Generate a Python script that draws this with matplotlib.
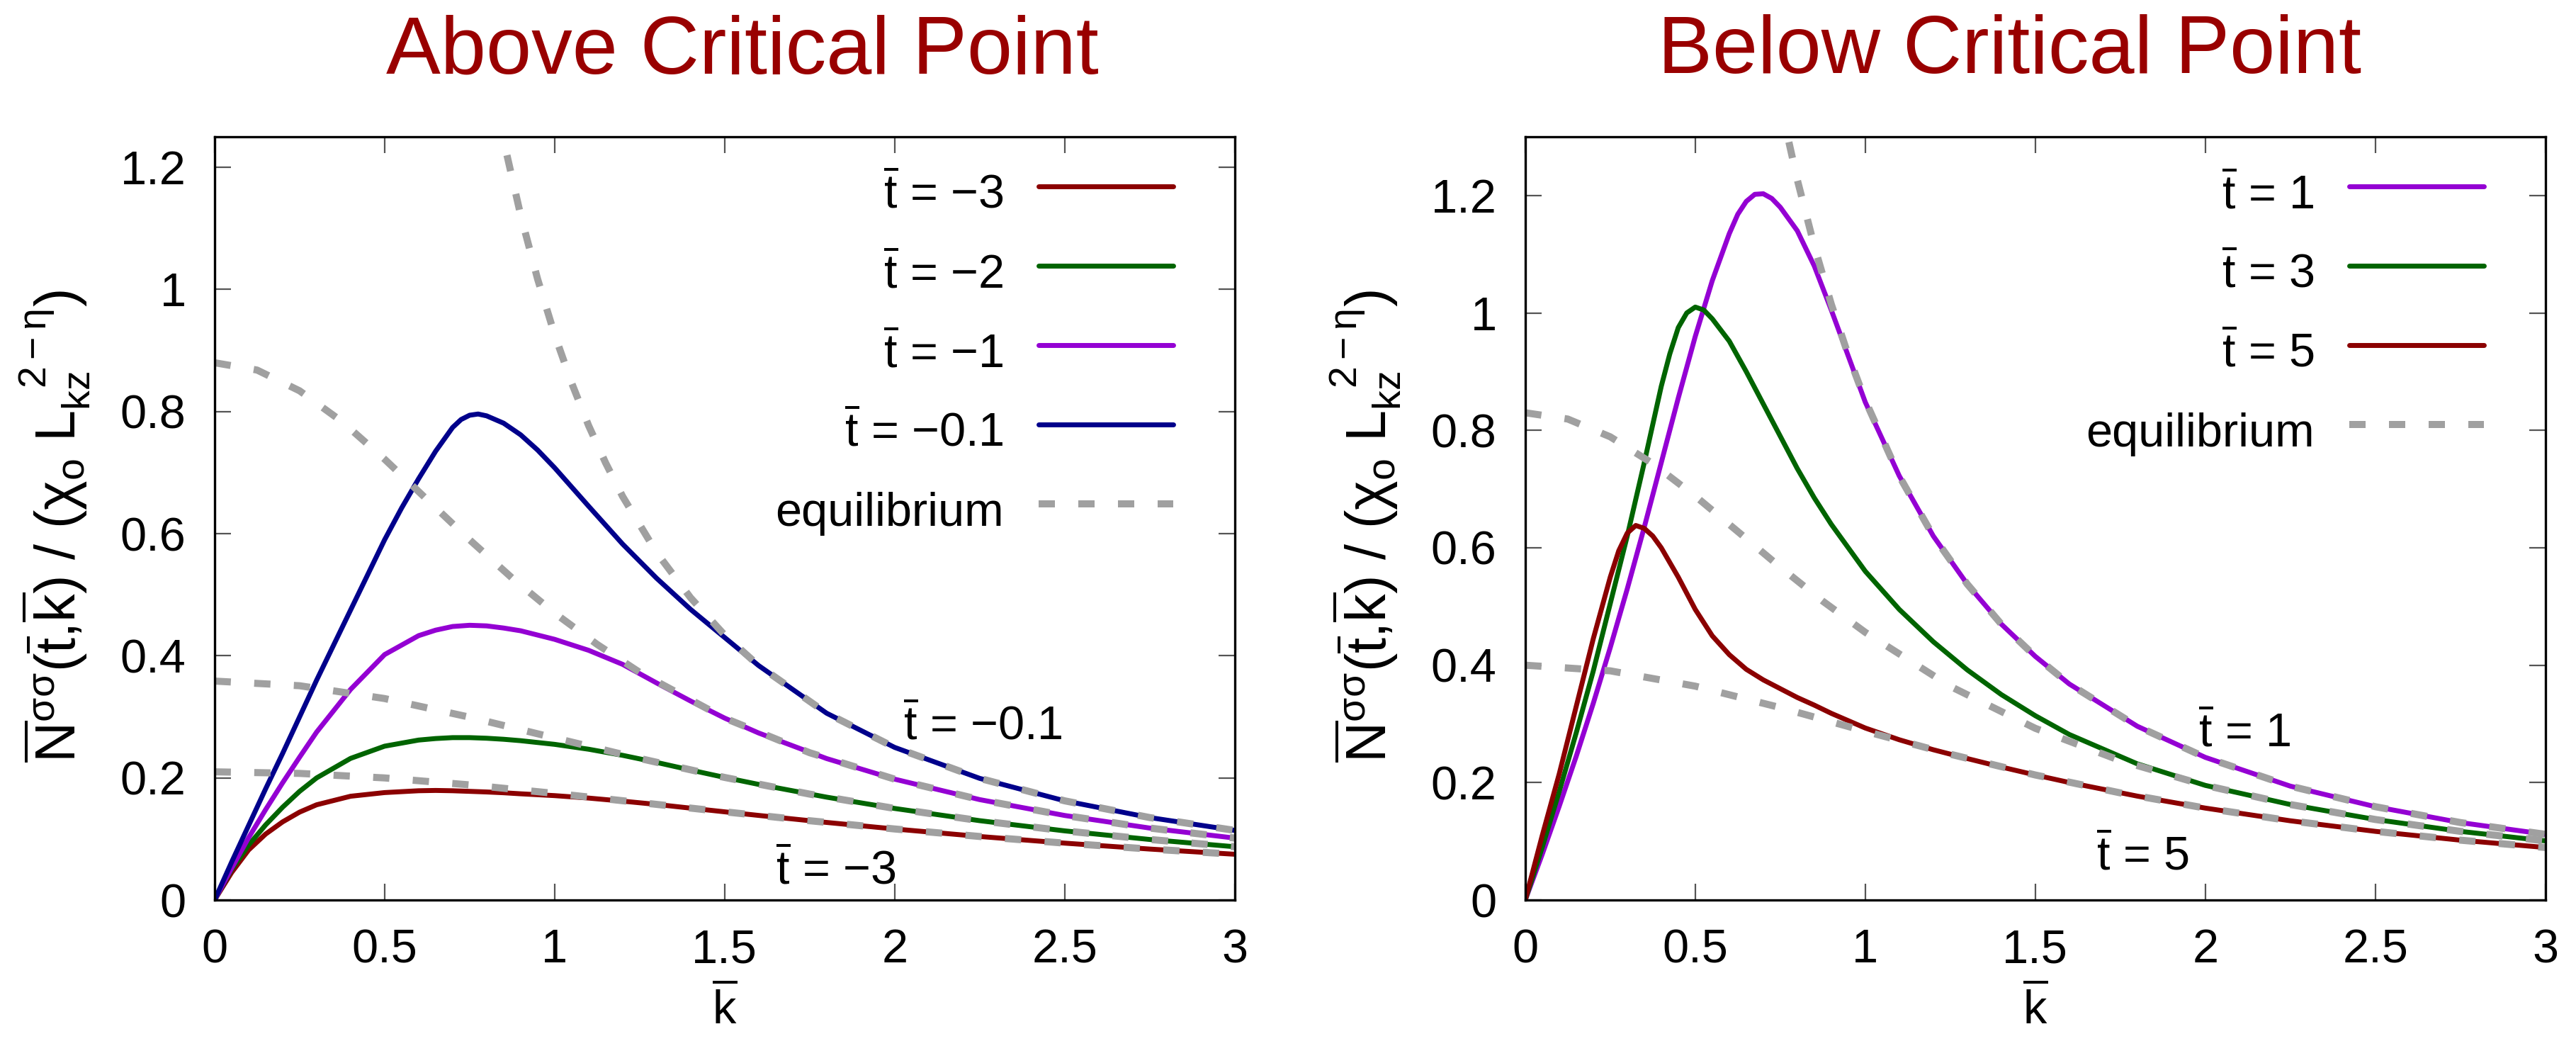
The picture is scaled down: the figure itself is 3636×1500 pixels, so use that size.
import matplotlib
matplotlib.use('Agg')
import matplotlib.pyplot as plt

plt.rcParams['font.family'] = ['Liberation Sans', 'DejaVu Sans']
plt.rcParams['mathtext.fontset'] = 'custom'
plt.rcParams['mathtext.rm'] = 'Liberation Sans'
plt.rcParams['mathtext.it'] = 'Liberation Sans'
plt.rcParams['mathtext.bf'] = 'Liberation Sans:bold'
plt.rcParams['mathtext.sf'] = 'Liberation Sans'

# ---- data ----
k_ticks = [0, 0.5, 1, 1.5, 2, 2.5, 3]
k_tick_labels = ['0', '0.5', '1', '1.5', '2', '2.5', '3']
n_ticks = [0, 0.2, 0.4, 0.6, 0.8, 1.0, 1.2]
n_tick_labels = ['0', '0.2', '0.4', '0.6', '0.8', '1', '1.2']

# above critical point
k_above = [0, 0.05, 0.1, 0.15, 0.2, 0.25, 0.3, 0.4, 0.5, 0.6, 0.65, 0.7, 0.75, 0.8, 0.85, 0.9,
           1.0, 1.1, 1.2, 1.3, 1.4, 1.5, 1.6, 1.8, 2.0, 2.25, 2.5, 2.75, 3.0]
n_above_m3 = [0, 0.045, 0.082, 0.108, 0.128, 0.144, 0.156, 0.170, 0.176, 0.179, 0.1795, 0.179, 0.178, 0.177,
              0.1757, 0.174, 0.171, 0.167, 0.162, 0.1566, 0.1505, 0.1445, 0.1386, 0.1271, 0.1164, 0.1041,
              0.0932, 0.0835, 0.0750]
n_above_m2 = [0, 0.05, 0.09, 0.123, 0.152, 0.178, 0.200, 0.232, 0.252, 0.262, 0.2645, 0.266, 0.266, 0.265,
              0.2633, 0.261, 0.255, 0.247, 0.237, 0.2254, 0.2129, 0.2008, 0.1894, 0.1685, 0.150, 0.130,
              0.1133, 0.0992, 0.0873]
n_above_m1 = [0, 0.052, 0.102, 0.148, 0.192, 0.234, 0.275, 0.345, 0.402, 0.433, 0.442, 0.448, 0.450, 0.449,
              0.4455, 0.441, 0.427, 0.409, 0.386, 0.3555, 0.3259, 0.298, 0.2736, 0.2317, 0.198, 0.1645,
              0.1385, 0.1179, 0.1015]

k_above_m01 = [0, 0.05, 0.1, 0.15, 0.2, 0.25, 0.3, 0.4, 0.5, 0.55, 0.6, 0.65, 0.7, 0.725, 0.75, 0.775, 0.8,
               0.85, 0.9, 0.95, 1.0, 1.1, 1.2, 1.3, 1.4, 1.5, 1.6, 1.8, 2.0, 2.25, 2.5, 2.75, 3.0]
n_above_m01 = [0, 0.062, 0.122, 0.182, 0.240, 0.300, 0.360, 0.475, 0.590, 0.642, 0.690, 0.735, 0.774, 0.787,
               0.794, 0.796, 0.793, 0.781, 0.762, 0.737, 0.708, 0.645, 0.583, 0.527, 0.476, 0.430, 0.384,
               0.306, 0.250, 0.1993, 0.1625, 0.1351, 0.1141]

k_eq_m3 = [0, 0.25, 0.5, 0.75, 1.0, 1.25, 1.5, 1.75, 2.0, 2.25, 2.5, 2.75, 3.0]
eq_m3 = [0.210, 0.2074, 0.200, 0.1886, 0.1747, 0.1597, 0.1445, 0.1299, 0.1164, 0.1041, 0.0932, 0.0835, 0.0750]
k_eq_m2 = [0, 0.25, 0.5, 0.75, 1.0, 1.25, 1.5, 1.75, 2.0, 2.25, 2.5, 2.75, 3.0]
eq_m2 = [0.3586, 0.351, 0.330, 0.2995, 0.2655, 0.2319, 0.2008, 0.1735, 0.150, 0.130, 0.1133, 0.0992, 0.0873]
k_eq_m1 = [0, 0.125, 0.25, 0.375, 0.5, 0.625, 0.75, 0.875, 1.0, 1.125, 1.25, 1.5, 1.75, 2.0, 2.25, 2.5, 2.75, 3.0]
eq_m1 = [0.880, 0.868, 0.834, 0.7835, 0.722, 0.6558, 0.590, 0.5274, 0.470, 0.4187, 0.373, 0.298, 0.2413,
         0.198, 0.1645, 0.1385, 0.1179, 0.1015]
k_eq_m01 = [0.75, 0.8, 0.85, 0.9, 0.95, 1.0, 1.05, 1.1, 1.15, 1.2, 1.3, 1.4, 1.5, 1.6, 1.8, 2.0, 2.25, 2.5, 2.75, 3.0]
eq_m01 = [1.551, 1.385, 1.244, 1.122, 1.017, 0.926, 0.847, 0.777, 0.716, 0.661, 0.569, 0.495, 0.434, 0.384,
          0.306, 0.250, 0.1993, 0.1625, 0.1351, 0.1141]

# below critical point
k_below_p1 = [0, 0.05, 0.1, 0.15, 0.2, 0.25, 0.3, 0.35, 0.4, 0.45, 0.5, 0.55, 0.6, 0.625, 0.65, 0.675, 0.7,
              0.725, 0.75, 0.8, 0.85, 0.9, 1.0, 1.1, 1.2, 1.3, 1.4, 1.5, 1.6, 1.8, 2.0, 2.25, 2.5, 2.75, 3.0]
n_below_p1 = [0, 0.078, 0.16, 0.245, 0.335, 0.43, 0.53, 0.635, 0.745, 0.855, 0.96, 1.055, 1.135, 1.168, 1.19,
              1.202, 1.203, 1.195, 1.18, 1.14, 1.08, 1.005, 0.848, 0.7224, 0.620, 0.538, 0.470, 0.415, 0.368,
              0.296, 0.243, 0.194, 0.159, 0.132, 0.112]
k_below_p3 = [0, 0.05, 0.1, 0.15, 0.2, 0.25, 0.3, 0.35, 0.4, 0.425, 0.45, 0.475, 0.5, 0.525, 0.55, 0.6, 0.65,
              0.7, 0.75, 0.8, 0.85, 0.9, 1.0, 1.1, 1.2, 1.3, 1.4, 1.5, 1.6, 1.8, 2.0, 2.25, 2.5, 2.75, 3.0]
n_below_p3 = [0, 0.09, 0.185, 0.285, 0.39, 0.505, 0.62, 0.745, 0.875, 0.93, 0.975, 1.0, 1.01, 1.005, 0.99,
              0.952, 0.9, 0.845, 0.79, 0.735, 0.685, 0.64, 0.56, 0.495, 0.44, 0.392, 0.35, 0.314, 0.282,
              0.232, 0.1953, 0.1627, 0.1372, 0.117, 0.1008]
k_below_p5 = [0, 0.05, 0.1, 0.15, 0.2, 0.25, 0.275, 0.3, 0.325, 0.35, 0.375, 0.4, 0.45, 0.5, 0.55, 0.6, 0.65,
              0.7, 0.75, 0.8, 0.85, 0.9, 1.0, 1.1, 1.2, 1.3, 1.4, 1.5, 1.6, 1.8, 2.0, 2.25, 2.5, 2.75, 3.0]
n_below_p5 = [0, 0.11, 0.215, 0.33, 0.445, 0.55, 0.595, 0.625, 0.638, 0.633, 0.62, 0.6, 0.55, 0.495, 0.45,
              0.418, 0.393, 0.375, 0.36, 0.345, 0.332, 0.318, 0.293, 0.273, 0.256, 0.241, 0.2266, 0.213,
              0.2002, 0.177, 0.1566, 0.135, 0.117, 0.102, 0.0895]

k_eq_p1 = [0.75, 0.8, 0.85, 0.9, 0.95, 1.0, 1.1, 1.2, 1.3, 1.4, 1.5, 1.6, 1.8, 2.0, 2.25, 2.5, 2.75, 3.0]
eq_p1 = [1.357, 1.227, 1.114, 1.015, 0.928, 0.851, 0.722, 0.620, 0.538, 0.470, 0.415, 0.368, 0.296, 0.243,
         0.194, 0.159, 0.132, 0.112]
k_eq_p3 = [0, 0.125, 0.25, 0.375, 0.5, 0.625, 0.75, 0.875, 1.0, 1.25, 1.5, 1.75, 2.0, 2.25, 2.5, 2.75, 3.0]
eq_p3 = [0.83, 0.8193, 0.789, 0.7434, 0.688, 0.6277, 0.567, 0.5091, 0.456, 0.364, 0.2925, 0.2375, 0.1953,
         0.1627, 0.1372, 0.117, 0.1008]
k_eq_p5 = [0, 0.25, 0.5, 0.75, 1.0, 1.25, 1.5, 1.75, 2.0, 2.25, 2.5, 2.75, 3.0]
eq_p5 = [0.40, 0.3904, 0.3643, 0.3278, 0.2875, 0.2484, 0.2130, 0.1825, 0.1566, 0.135, 0.117, 0.102, 0.0895]

DARK_RED = '#8b0000'
DARK_GREEN = '#006400'
VIOLET = '#9400d3'
DARK_BLUE = '#00008b'
GRAY = '#a0a0a0'
TITLE_RED = '#990000'

FS = 48
TBAR = r'$\overline{\mathrm{t}}$'
YLABEL = (r'$\overline{\mathrm{N}}^{\sigma\sigma}(\overline{\mathrm{t}}{,}\overline{\mathrm{k}})\ /\ '
          r'(\chi_{\mathrm{o}}\ \mathrm{L}_{\mathrm{kz}}^{\ \ 2-\eta})$')


def draw_panel(ax, solids, equils, ymax, notes):
    for k, n, color, lab in solids:
        ax.plot(k, n, color=color, lw=5, label=lab, zorder=2, solid_capstyle='round',
                solid_joinstyle='round')
    for i, (k, n) in enumerate(equils):
        ax.plot(k, n, color=GRAY, lw=7.2, dashes=(2.3, 3.3), dash_capstyle='butt',
                label='equilibrium' if i == 0 else None, zorder=3)
    for x, y, txt in notes:
        ax.text(x, y, txt, fontsize=FS, ha='left', va='baseline', zorder=4)

    ax.set_xlim(0, 3)
    ax.set_ylim(0, ymax)
    ax.set_xticks(k_ticks)
    ax.set_xticklabels(k_tick_labels)
    ax.set_yticks(n_ticks)
    ax.set_yticklabels(n_tick_labels)
    ax.tick_params(direction='in', top=True, right=True, length=16.5, width=1.6,
                   color='#555555', labelsize=FS, pad=29)
    for s in ax.spines.values():
        s.set_linewidth(2.4)
        s.set_zorder(5)

    ax.set_ylabel(YLABEL, fontsize=57)
    ax.yaxis.set_label_coords(-0.12, 0.49)
    ax.set_xlabel(r'$\overline{\mathrm{k}}$', fontsize=FS)
    ax.xaxis.set_label_coords(0.5, -0.112)

    ax.legend(loc='upper right', bbox_to_anchor=(0.94, 0.9645), frameon=False, markerfirst=False,
              fontsize=FS, handlelength=2.85, handletextpad=0.75, labelspacing=0.46,
              handleheight=1.5, borderpad=0, borderaxespad=0)


fig = plt.figure(figsize=(36.36, 15), dpi=100)
ax1 = fig.add_axes([0.0833, 0.1533, 0.396, 0.718])
ax2 = fig.add_axes([0.5921, 0.1533, 0.396, 0.718])

draw_panel(ax1,
           [(k_above, n_above_m3, DARK_RED, TBAR + ' = \u22123'),
            (k_above, n_above_m2, DARK_GREEN, TBAR + ' = \u22122'),
            (k_above, n_above_m1, VIOLET, TBAR + ' = \u22121'),
            (k_above_m01, n_above_m01, DARK_BLUE, TBAR + ' = \u22120.1')],
           [(k_eq_m3, eq_m3), (k_eq_m2, eq_m2), (k_eq_m1, eq_m1), (k_eq_m01, eq_m01)],
           1.25,
           [(2.025, 0.263, TBAR + ' = \u22120.1'), (1.65, 0.026, TBAR + ' = \u22123')])

draw_panel(ax2,
           [(k_below_p1, n_below_p1, VIOLET, TBAR + ' = 1'),
            (k_below_p3, n_below_p3, DARK_GREEN, TBAR + ' = 3'),
            (k_below_p5, n_below_p5, DARK_RED, TBAR + ' = 5')],
           [(k_eq_p1, eq_p1), (k_eq_p3, eq_p3), (k_eq_p5, eq_p5)],
           1.3,
           [(1.98, 0.262, TBAR + ' = 1'), (1.68, 0.051, TBAR + ' = 5')])

fig.text(0.2882, 0.9313, 'Above Critical Point', fontsize=83, color=TITLE_RED, ha='center', va='baseline')
fig.text(0.780, 0.9313, 'Below Critical Point', fontsize=83, color=TITLE_RED, ha='center', va='baseline')

fig.savefig('out.png', dpi=100)
